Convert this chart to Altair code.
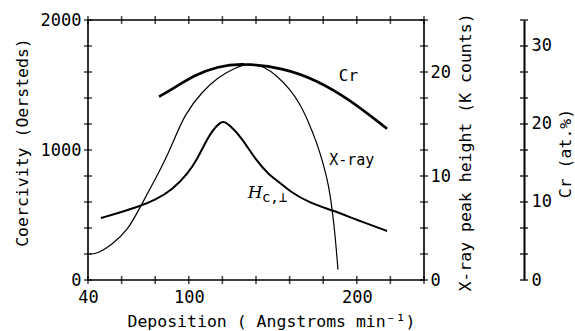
import altair as alt
import pandas as pd

# ---- data ----
hc_rate = [47.7, 57.9, 71.0, 79.9, 90.0, 99.5, 105.0, 110.0, 114.0, 118.6, 121.0, 124.0, 131.7, 139.4, 148.3, 154.3, 160.2, 172.1, 185.8, 200.1, 218.0]
hc_val = [477, 515, 569, 615, 692, 820, 930, 1060, 1150, 1212, 1220, 1195, 1092, 930, 800, 750, 680, 592, 535, 462, 377]

xr_rate = [40.0, 45.4, 54.3, 63.8, 71.0, 78.1, 85.8, 90.0, 97.7, 107.9, 117.4, 127.5, 136.4, 145.0, 152.0, 160.0, 166.0, 171.0, 176.0, 180.0, 183.0, 185.2, 187.0, 188.8]
xr_val = [2.5, 2.5, 3.4, 4.8, 7.0, 9.1, 11.5, 13.0, 16.0, 18.1, 19.5, 20.4, 20.9, 20.5, 19.7, 18.4, 17.0, 15.3, 13.3, 11.2, 9.3, 7.0, 4.5, 1.0]

cr_rate = [82.3, 91.8, 103.7, 117.4, 131.7, 156.1, 176.3, 196.0, 218.0]
cr_val = [23.5, 24.7, 26.3, 27.4, 27.8, 27.2, 25.6, 23.1, 19.4]

x_ticks = [40, 60, 80, 100, 120, 140, 160, 180, 200, 220, 240]
x_labels = [40, 100, 200]
hc_ticks = [0, 200, 400, 600, 800, 1000, 1200, 1400, 1600, 1800, 2000]
hc_labels = [0, 1000, 2000]
xr_ticks = [0, 2.5, 5, 7.5, 10, 12.5, 15, 17.5, 20, 22.5, 25]
xr_labels = [0, 10, 20]
cr_ticks = [0, 3.333, 6.667, 10, 13.333, 16.667, 20, 23.333, 26.667, 30, 33.333]
cr_labels = [0, 10, 20, 30]

FONT = "DejaVu Sans Mono"
W, H = 336, 260
LFS = 17   # tick label size
TFS = 16.5  # axis title size

xs = alt.Scale(domain=[40, 240], nice=False, zero=False)
hs = alt.Scale(domain=[0, 2000], nice=False)
rs = alt.Scale(domain=[0, 25], nice=False)
cs = alt.Scale(domain=[0, 33.333], nice=False)

hc_df = pd.DataFrame({"rate": hc_rate, "v": hc_val})
xr_df = pd.DataFrame({"rate": xr_rate, "v": xr_val})
cr_df = pd.DataFrame({"rate": cr_rate, "v": cr_val})

common = dict(ticks=False, grid=False, labelFont=FONT, labelFontSize=LFS, labelColor="black",
              labelFlush=False, labelOverlap=False, format="d", titleFont=FONT,
              titleFontSize=TFS, titleFontWeight="normal", titleColor="black")

x_axis = alt.Axis(values=x_labels, domain=False, labelPadding=9,
                  title="Deposition ( Angstroms  min⁻¹)", titleX=183, titleY=33,
                  titleBaseline="top", **common)
hc_axis = alt.Axis(values=hc_labels, domain=False, labelPadding=7,
                   title="Coercivity (Oersteds)", titleX=-66, titleY=122, titleAngle=270,
                   titleBaseline="middle", titleAlign="center", **common)
xr_axis = alt.Axis(orient="right", values=xr_labels, domain=False, labelPadding=6,
                   title="X-ray peak height (K counts)", titleAngle=270, titleX=41,
                   titleBaseline="middle", titleAlign="center", titleY=H / 2 + 2, **common)
cr_axis = alt.Axis(orient="right", offset=100, values=cr_labels,
                   domain=True, domainColor="black", domainWidth=2, labelPadding=7,
                   title="Cr (at.%)", titleAngle=270, titleX=41, titleY=H / 2 + 3,
                   titleBaseline="middle", titleAlign="center", **common)

X = lambda f: alt.X(f, scale=xs, axis=x_axis)
YH = lambda f: alt.Y(f, scale=hs, axis=hc_axis)
YR = lambda f: alt.Y(f, scale=rs, axis=xr_axis)
YC = lambda f: alt.Y(f, scale=cs, axis=cr_axis)

# ---- coercivity group ----
hc_line = alt.Chart(hc_df).mark_line(color="black", strokeWidth=2, interpolate="basis").encode(
    x=X("rate:Q"), y=YH("v:Q"))
hc_tick = alt.Chart(pd.DataFrame({"t": hc_ticks})).mark_tick(
    orient="horizontal", color="black", size=8, thickness=1.6).encode(
    x=alt.value(0), y=YH("t:Q"))
bot_tick = alt.Chart(pd.DataFrame({"t": x_ticks})).mark_tick(
    orient="vertical", color="black", size=8, thickness=1.6).encode(
    x=X("t:Q"), y=alt.value(H))
top_tick = alt.Chart(pd.DataFrame({"t": x_ticks})).mark_tick(
    orient="vertical", color="black", size=8, thickness=1.6).encode(
    x=X("t:Q"), y=alt.value(0))
hc_lab = alt.Chart(pd.DataFrame({"rate": [139.5], "v": [673], "s": ["H"]})).mark_text(
    font="DejaVu Serif", fontStyle="italic", fontSize=17, align="center", color="black").encode(
    x=X("rate:Q"), y=YH("v:Q"), text="s:N")
hc_lab2 = alt.Chart(pd.DataFrame({"rate": [143.5], "v": [630], "s": ["c,⊥"]})).mark_text(
    font=FONT, fontSize=14, align="left", color="black").encode(
    x=X("rate:Q"), y=YH("v:Q"), text="s:N")
hc_group = alt.layer(hc_line, hc_tick, bot_tick, top_tick, hc_lab, hc_lab2)

# ---- X-ray group ----
xr_line = alt.Chart(xr_df).mark_line(color="black", strokeWidth=1.2, interpolate="basis").encode(
    x=X("rate:Q"), y=YR("v:Q"))
xr_tick = alt.Chart(pd.DataFrame({"t": xr_ticks})).mark_tick(
    orient="horizontal", color="black", size=8, thickness=1.6).encode(
    x=alt.value(W), y=YR("t:Q"))
xr_lab = alt.Chart(pd.DataFrame({"rate": [197], "v": [11.5], "s": ["X-ray"]})).mark_text(
    font=FONT, fontSize=15, align="center", color="black").encode(
    x=X("rate:Q"), y=YR("v:Q"), text="s:N")
xr_group = alt.layer(xr_line, xr_tick, xr_lab)

# ---- Cr group ----
cr_line = alt.Chart(cr_df).mark_line(color="black", strokeWidth=2.6, interpolate="basis").encode(
    x=X("rate:Q"), y=YC("v:Q"))
cr_tick = alt.Chart(pd.DataFrame({"t": cr_ticks})).mark_tick(
    orient="horizontal", color="black", size=8, thickness=1.8).encode(
    x=alt.value(W + 100), y=YC("t:Q"))
cr_lab = alt.Chart(pd.DataFrame({"rate": [195], "v": [26.1], "s": ["Cr"]})).mark_text(
    font=FONT, fontSize=16, align="center", color="black").encode(
    x=X("rate:Q"), y=YC("v:Q"), text="s:N")
cr_group = alt.layer(cr_line, cr_tick, cr_lab)

chart = alt.layer(hc_group, xr_group, cr_group).resolve_scale(y="independent").properties(
    width=W, height=H,
    autosize=alt.AutoSizeParams(type="none"),
    padding={"left": 88, "top": 20, "right": 151, "bottom": 51},
    background="white",
).configure_view(stroke="black", strokeWidth=1.6)

chart.save("out.html", embed_options={"renderer": "svg", "actions": False})
